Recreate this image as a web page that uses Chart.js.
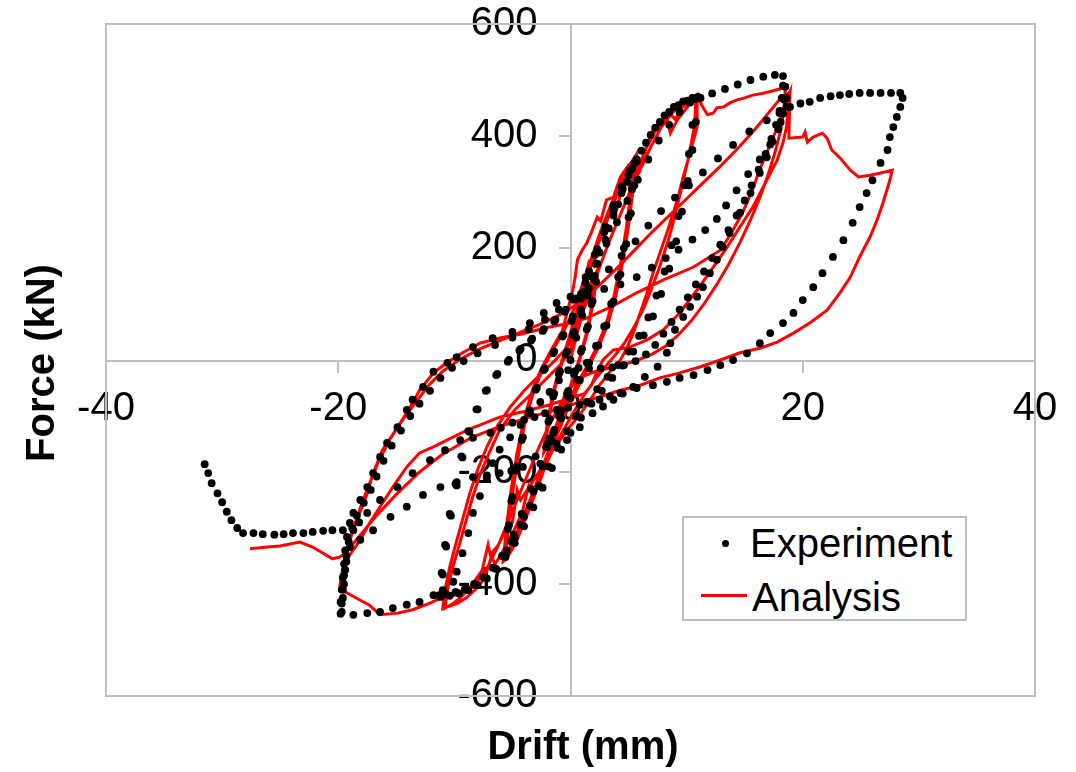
<!DOCTYPE html>
<html>
<head>
<meta charset="utf-8">
<script src="https://cdn.jsdelivr.net/npm/chart.js@4.4.1/dist/chart.umd.min.js"></script>
<style>
  html, body { margin: 0; padding: 0; background: #fff; }
  #wrap { position: relative; width: 1076px; height: 772px; font-family: "Liberation Sans", Arial, sans-serif; }
  canvas { position: absolute; left: 0; top: 0; }
  .axt { position: absolute; font-weight: bold; font-size: 40px; line-height: 48px; height: 48px; text-align: center; color: #000; white-space: nowrap; }
  #legend { position: absolute; left: 682px; top: 516px; width: 281px; height: 101px; border: 2px solid #bfbfbf; background: #fff; }
  .lgt { position: absolute; font-size: 40px; line-height: 48px; height: 48px; color: #000; white-space: nowrap; }
  .lgdot { position: absolute; width: 7px; height: 7px; border-radius: 50%; }
  .lgline { position: absolute; width: 46px; height: 3px; }
</style>
</head>
<body>
<div id="wrap">
  <canvas id="c" width="1076" height="772"></canvas>
  <div class="axt" id="ytitle" style="left:-110px; top:339px; width:300px; transform: rotate(-90deg);"></div>
  <div class="axt" id="xtitle" style="left:433px; top:721px; width:300px;"></div>
  <div id="legend"></div>
</div>
<script>
// ---------------- data (Drift mm, Force kN) ----------------
const xTickValues = [-40, -20, 0, 20, 40];
const yTickValues = [-600, -400, -200, 0, 200, 400, 600];
const xTitle = "Drift (mm)";
const yTitle = "Force (kN)";
const seriesNames = ["Experiment", "Analysis"];

// Experiment: small cycles (about ±2 mm)
const expSmall = [[0,0],[0.5,40],[1.0,80],[1.5,115],[2.0,145],[1.8,100],[1.4,55],[0.9,15],[0.3,-25],[-0.3,-60],[-0.9,-95],[-1.5,-130],[-2.0,-150],[-1.8,-105],[-1.4,-60],[-0.9,-20],[-0.3,15],[0.3,50],[0.9,90],[1.5,125],[2.1,150],[1.9,105],[1.5,60],[1.0,20],[0.4,-20],[-0.2,-55],[-0.8,-90],[-1.4,-125],[-2.1,-155],[-1.9,-110],[-1.5,-65],[-1.0,-25],[-0.4,10]];
// Experiment: cycles about ±5.5 mm
const expMid = [[0.2,45],[0.9,85],[1.6,128],[2.3,172],[3.0,215],[3.7,258],[4.4,298],[5.0,330],[5.5,352],[5.3,305],[5.0,255],[4.6,200],[4.1,148],[3.5,100],[2.9,60],[2.2,25],[1.4,-5],[0.6,-35],[-0.2,-65],[-1.0,-100],[-1.8,-140],[-2.6,-185],[-3.4,-230],[-4.2,-275],[-4.9,-312],[-5.5,-340],[-5.3,-295],[-5.0,-245],[-4.6,-190],[-4.1,-138],[-3.5,-90],[-2.9,-50],[-2.2,-15],[-1.4,15],[-0.6,45],[0.2,78],[0.9,118],[1.6,158],[2.3,198],[3.0,238],[3.7,276],[4.4,310],[5.1,338],[5.7,358],[5.5,312],[5.2,262],[4.8,207],[4.3,153],[3.7,104],[3.1,62],[2.4,26],[1.6,-5],[0.8,-36],[0.0,-68],[-0.8,-104],[-1.6,-145],[-2.4,-190],[-3.2,-235],[-4.0,-280],[-4.8,-318],[-5.6,-348],[-5.4,-302],[-5.1,-252],[-4.7,-197],[-4.2,-143],[-3.6,-94],[-3.0,-53],[-2.3,-18],[-1.5,12],[-0.7,42]];
// Experiment: cycles about ±11 mm
const expCycle11 = [[0.1,70],[0.9,110],[1.7,150],[2.5,192],[3.3,235],[4.1,278],[4.9,318],[5.7,355],[6.5,388],[7.3,415],[8.1,437],[8.9,452],[9.7,462],[10.5,468],[11.0,470],[10.8,425],[10.5,375],[10.1,320],[9.6,265],[9.1,212],[8.5,163],[7.8,118],[7.1,78],[6.3,44],[5.4,15],[4.5,-10],[3.6,-32],[2.7,-55],[1.8,-78],[0.9,-103],[0.0,-130],[-0.8,-160],[-1.6,-193],[-2.4,-228],[-3.2,-263],[-4.0,-297],[-4.8,-327],[-5.6,-352],[-6.4,-373],[-7.2,-390],[-8.0,-402],[-8.8,-411],[-9.6,-417],[-10.4,-421],[-11.2,-423],[-11.0,-383],[-10.7,-333],[-10.3,-278],[-9.8,-224],[-9.3,-174],[-8.7,-128],[-8.0,-88],[-7.2,-54],[-6.3,-25],[-5.3,0],[-4.3,20],[-3.3,38],[-2.3,55],[-1.3,72],[-0.4,90],[0.5,110],[1.3,148],[2.1,188],[2.9,228],[3.7,268],[4.5,306],[5.3,342],[6.1,374],[6.9,402],[7.7,425],[8.5,443],[9.3,455],[10.1,463],[10.7,466],[10.5,420],[10.2,368],[9.8,312],[9.3,257],[8.7,205],[8.1,158],[7.4,115],[6.7,76],[5.9,43],[5.0,15],[4.1,-9],[3.2,-30],[2.3,-52],[1.4,-75],[0.5,-100],[-0.3,-127],[-1.1,-157],[-1.9,-190],[-2.7,-225],[-3.5,-260],[-4.3,-294],[-5.1,-324],[-5.9,-350],[-6.7,-371],[-7.5,-388],[-8.3,-400],[-9.1,-409],[-9.9,-414],[-10.7,-418],[-11.3,-420],[-11.1,-380],[-10.8,-330],[-10.4,-275],[-9.9,-221],[-9.4,-172],[-8.8,-127],[-8.1,-88],[-7.3,-55],[-6.4,-27],[-5.4,-3],[-4.4,17],[-3.4,35],[-2.4,52],[-1.4,69],[-0.5,86]];
// Experiment: first +18 / -20 mm cycle
const expCycle18a = [[0.4,108],[1.3,138],[2.2,172],[3.1,208],[4.0,246],[4.9,284],[5.8,322],[6.7,358],[7.6,392],[8.5,420],[9.4,443],[10.3,460],[11.2,468],[12.2,476],[13.3,484],[14.4,492],[15.5,500],[16.6,506],[17.6,509],[18.3,507],[18.3,490],[18.2,468],[18.0,445],[17.7,420],[17.3,395],[16.8,368],[16.2,340],[15.6,312],[15.0,285],[14.3,258],[13.6,232],[12.9,206],[12.2,182],[11.5,158],[10.8,135],[10.1,112],[9.4,90],[8.7,68],[8.0,47],[7.3,27],[6.5,10],[5.6,-2],[4.6,-9],[3.6,-13],[2.6,-15],[1.6,-15],[0.7,-14],[-0.2,-18],[-1.0,-36],[-1.8,-57],[-2.6,-75],[-3.5,-95],[-4.3,-116],[-5.2,-138],[-6.1,-160],[-6.7,-184],[-7.2,-212],[-7.8,-243],[-8.4,-273],[-8.8,-309],[-9.3,-345],[-9.8,-378],[-10.1,-396],[-11.0,-411],[-11.8,-420],[-13.0,-432],[-14.1,-437],[-15.3,-443],[-16.4,-450],[-17.5,-452],[-18.7,-455],[-19.8,-453],[-19.8,-432],[-19.7,-410],[-19.6,-388],[-19.5,-364],[-19.4,-340],[-19.25,-316],[-19.0,-291],[-18.7,-273],[-18.1,-250],[-17.5,-227],[-17.0,-202],[-16.4,-173],[-15.8,-148],[-14.9,-120],[-14.1,-89],[-13.6,-71],[-12.7,-48],[-11.8,-21],[-10.6,-5],[-9.8,5],[-8.4,23],[-6.7,39],[-5.0,50],[-3.5,66],[-2.3,84],[-1.2,102],[0.0,113],[1.4,120],[2.9,127],[4.3,135],[5.7,148],[7.0,165],[8.2,182],[9.3,197],[10.5,215],[11.6,232],[12.6,252],[13.4,276],[14.3,303],[15.3,332],[16.3,358],[17.2,385],[17.9,412],[18.3,440],[18.4,465],[18.5,488]];
// Experiment: second +18 / -20 mm cycle
const expCycle18b = [[18.6,468],[18.6,452],[18.1,425],[17.4,390],[16.9,362],[16.3,334],[15.5,298],[14.6,263],[13.7,227],[13.1,202],[12.6,179],[12.0,155],[11.4,130],[10.9,113],[10.3,95],[9.7,77],[9.0,54],[8.6,30],[8.3,13],[7.5,-12],[6.4,-30],[5.4,-48],[4.5,-60],[3.7,-71],[2.8,-83],[1.9,-95],[0.8,-120],[-0.3,-143],[-1.2,-150],[-2.0,-155],[-3.0,-172],[-4.1,-191],[-5.1,-198],[-6.1,-202],[-7.2,-206],[-8.4,-209],[-9.8,-218],[-11.2,-227],[-12.7,-241],[-14.1,-262],[-15.5,-280],[-17.0,-304],[-18.1,-321],[-19.0,-334],[-19.3,-360],[-19.5,-385],[-19.6,-410],[-19.7,-435],[-19.7,-450],[-19.6,-425],[-19.5,-400],[-19.4,-375],[-19.3,-350],[-19.1,-325],[-18.8,-300],[-18.4,-278],[-17.8,-255],[-17.2,-232],[-16.7,-208],[-16.1,-180],[-15.4,-153],[-14.6,-126],[-13.8,-100],[-13.0,-78],[-12.1,-55],[-11.2,-32],[-10.2,-14],[-9.2,-2],[-8.0,12],[-6.5,27],[-5.0,40],[-3.6,55],[-2.2,72],[-1.0,90],[0.2,108],[1.2,122],[2.2,140],[3.3,162],[4.4,186],[5.6,212],[6.7,240],[7.8,266],[9.0,290],[10.2,312],[11.4,335],[12.7,360],[14.0,384],[15.4,408],[16.9,428],[18.0,441],[18.9,452]];
// Experiment: +28 mm excursion and final negative push
const expCycle28 = [[19.8,458],[20.6,461],[21.5,468],[22.4,471],[23.2,473],[24.0,475],[24.9,477],[25.8,477],[26.7,477],[27.6,477],[28.4,477],[28.6,468],[28.4,452],[28.1,434],[27.8,416],[27.5,398],[27.3,375],[26.7,352],[26.0,321],[25.5,298],[24.9,273],[24.3,245],[23.5,214],[22.6,184],[21.7,155],[20.9,130],[20.0,107],[19.2,84],[18.3,66],[17.2,48],[16.3,30],[15.2,12],[14.0,0],[12.9,-9],[11.8,-18],[10.6,-27],[9.4,-32],[8.3,-39],[7.1,-45],[5.7,-50],[4.3,-59],[3.4,-65],[2.5,-71],[1.6,-76],[0.8,-80],[-0.2,-85],[-1.2,-89],[-2.2,-95],[-3.1,-102],[-4.0,-107],[-5.0,-112],[-6.0,-121],[-6.9,-130],[-8.4,-139],[-9.5,-143],[-10.8,-161],[-12.1,-179],[-13.6,-202],[-14.9,-227],[-16.4,-250],[-17.5,-273],[-18.2,-290],[-18.7,-304],[-19.6,-304],[-20.5,-304],[-21.3,-305],[-22.2,-307],[-23.0,-309],[-23.9,-309],[-24.7,-311],[-25.5,-312],[-26.5,-311],[-27.3,-309],[-28.2,-309],[-28.7,-300],[-29.2,-286],[-29.6,-271],[-30.0,-254],[-30.4,-238],[-30.9,-220],[-31.2,-202],[-31.5,-186]];

// Analysis: small cycles
const anaSmall = [[0,0],[0.6,50],[1.2,95],[1.8,135],[2.2,155],[1.9,105],[1.4,50],[0.8,5],[0.2,-35],[-0.5,-75],[-1.2,-115],[-1.8,-145],[-2.2,-160],[-1.9,-110],[-1.4,-55],[-0.8,-10],[-0.2,30],[0.5,70],[1.2,110],[1.8,140],[2.3,160],[2.0,108],[1.5,52],[0.9,8],[0.3,-32],[-0.4,-72],[-1.1,-112],[-1.8,-148],[-2.3,-165],[-2.0,-112],[-1.5,-57],[-0.9,-12],[-0.3,28]];
// Analysis: cycles about ±5.5 mm
const anaMid = [[0.3,70],[1.0,120],[1.8,170],[2.6,220],[3.4,265],[4.2,305],[4.9,338],[5.5,360],[5.2,300],[4.8,235],[4.3,170],[3.7,110],[3.0,60],[2.2,20],[1.3,-15],[0.4,-50],[-0.5,-90],[-1.4,-135],[-2.3,-185],[-3.2,-235],[-4.1,-282],[-4.9,-322],[-5.6,-350],[-5.3,-290],[-4.9,-225],[-4.4,-160],[-3.8,-100],[-3.1,-52],[-2.3,-12],[-1.4,22],[-0.5,55],[0.4,95],[1.1,140],[1.9,188],[2.7,236],[3.5,278],[4.3,316],[5.0,345],[5.7,368],[5.4,305],[5.0,240],[4.5,175],[3.9,114],[3.2,63],[2.4,22],[1.5,-14],[0.6,-50],[-0.3,-90],[-1.2,-136],[-2.1,-186],[-3.0,-237],[-3.9,-285],[-4.7,-326],[-5.5,-355],[-5.8,-360],[-5.5,-295],[-5.1,-230],[-4.6,-165],[-4.0,-105],[-3.3,-55],[-2.5,-15],[-1.6,20],[-0.7,52]];
// Analysis: cycles about ±11 mm
const anaCycle11 = [[0.2,125],[0.4,148],[0.6,179],[1.0,196],[1.4,209],[1.8,228],[2.3,255],[2.6,248],[3.1,286],[3.7,291],[4.3,327],[4.9,345],[5.1,298],[5.7,339],[6.2,363],[6.7,388],[7.1,411],[7.7,423],[8.3,434],[8.6,405],[9.2,429],[10.0,450],[10.9,473],[10.9,416],[10.3,370],[9.7,327],[9.2,286],[8.3,227],[7.7,191],[7.1,155],[6.6,120],[6.0,84],[5.4,48],[4.9,23],[4.3,0],[3.4,-21],[2.5,-45],[1.7,-71],[0.8,-98],[-0.1,-120],[-0.9,-143],[-1.8,-170],[-2.6,-196],[-3.4,-222],[-4.3,-250],[-4.6,-232],[-5.0,-290],[-5.6,-304],[-6.2,-330],[-6.9,-348],[-7.1,-330],[-7.6,-375],[-8.2,-393],[-8.9,-412],[-9.5,-425],[-10.2,-436],[-10.8,-443],[-10.6,-411],[-10.2,-375],[-9.7,-339],[-9.1,-295],[-8.5,-250],[-7.8,-205],[-6.9,-161],[-6.1,-125],[-4.8,-89],[-3.5,-63],[-2.2,-36],[-0.9,-9],[0.0,18],[0.5,60],[0.9,110],[1.3,150],[1.6,175],[2.0,168],[2.4,210],[3.0,240],[3.6,275],[3.9,262],[4.4,305],[5.0,330],[5.5,355],[6.0,340],[6.5,378],[7.2,405],[7.8,425],[8.5,442],[9.0,430],[9.6,450],[10.2,462],[10.8,470],[10.7,420],[10.2,365],[9.6,310],[9.0,258],[8.4,212],[7.7,168],[7.0,128],[6.3,92],[5.5,60],[4.7,32],[3.9,10],[3.0,-12],[2.1,-35],[1.2,-62],[0.3,-92],[-0.6,-125],[-1.5,-160],[-2.4,-198],[-3.3,-238],[-3.6,-225],[-4.2,-275],[-5.0,-310],[-5.8,-340],[-6.5,-365],[-6.8,-350],[-7.4,-390],[-8.2,-410],[-9.0,-425],[-9.8,-435],[-10.6,-441],[-11.0,-444],[-10.8,-410],[-10.4,-370],[-9.9,-330],[-9.3,-285],[-8.7,-240],[-8.0,-196],[-7.2,-155],[-6.3,-118],[-5.2,-84],[-4.0,-55],[-2.7,-28],[-1.4,-2],[-0.3,22]];
// Analysis: first +18 / -20 mm cycle
const anaCycle18a = [[0.6,60],[1.5,110],[2.4,160],[3.3,210],[4.2,255],[5.1,300],[6.0,340],[6.9,380],[7.8,415],[8.7,440],[9.6,458],[10.5,470],[10.9,474],[11.3,455],[11.8,438],[12.3,441],[12.6,450],[13.2,452],[13.8,460],[14.3,464],[15.0,468],[15.7,473],[16.5,476],[17.3,480],[18.0,484],[18.5,486],[18.4,450],[18.1,410],[17.6,370],[17.0,330],[16.3,290],[15.5,250],[14.6,210],[13.6,170],[12.6,135],[11.5,100],[10.4,70],[9.3,45],[8.2,25],[7.0,10],[5.8,0],[4.6,-8],[3.4,-14],[2.2,-20],[1.0,-30],[0.0,-50],[-0.9,-80],[-1.8,-115],[-2.7,-155],[-3.6,-200],[-4.5,-245],[-5.4,-290],[-6.3,-335],[-7.2,-372],[-8.1,-398],[-9.0,-412],[-10.0,-420],[-11.0,-423],[-12.1,-434],[-13.6,-446],[-14.9,-452],[-16.4,-455],[-17.3,-438],[-18.1,-429],[-19.25,-416],[-19.8,-411],[-19.85,-405],[-19.6,-370],[-19.0,-321],[-18.4,-286],[-17.5,-238],[-17.0,-202],[-16.2,-161],[-14.9,-120],[-13.8,-84],[-13.0,-54],[-11.8,-23],[-10.6,-4],[-9.3,13],[-7.8,30],[-6.0,40],[-4.3,46],[-2.0,58],[0.0,66],[1.4,75],[3.7,97],[5.7,120],[8.0,143],[10.6,166],[12.9,196],[13.8,225],[14.8,262],[15.6,300],[16.3,340],[17.0,375],[17.6,405],[18.1,435],[18.5,460],[18.9,479]];
// Analysis: second +18 / -20 mm cycle
const anaCycle18b = [[18.7,440],[18.6,416],[18.3,388],[17.8,357],[16.9,321],[15.7,273],[14.6,238],[13.5,202],[12.3,166],[10.9,125],[9.4,84],[8.0,54],[6.6,36],[5.1,23],[3.7,18],[2.8,0],[2.3,-20],[1.8,-45],[1.2,-60],[-1.8,-80],[-4.0,-92],[-6.1,-102],[-8.9,-125],[-11.8,-155],[-13.0,-166],[-14.1,-191],[-15.3,-227],[-16.4,-262],[-17.3,-291],[-18.1,-321],[-19.3,-357],[-19.7,-390],[-19.9,-411],[-19.8,-395],[-19.5,-365],[-19.1,-330],[-18.6,-295],[-18.0,-258],[-17.3,-220],[-16.5,-180],[-15.5,-140],[-14.4,-105],[-13.3,-75],[-12.2,-45],[-11.0,-20],[-9.6,0],[-8.0,18],[-6.3,33],[-4.5,48],[-2.7,63],[-1.0,80],[0.2,95],[1.5,115],[2.8,140],[4.2,168],[5.6,198],[7.0,228],[8.5,258],[10.0,288],[11.5,318],[13.0,348],[14.5,380],[15.8,410],[17.0,440],[18.0,465],[18.9,479]];
// Analysis: +28 mm excursion and final negative push
const anaCycle28 = [[18.8,396],[20.0,398],[20.2,407],[20.4,389],[20.9,398],[21.7,405],[22.1,396],[22.5,375],[23.2,361],[24.1,339],[24.8,327],[25.8,330],[26.7,334],[27.7,339],[27.5,321],[26.9,280],[26.4,250],[25.8,220],[24.9,184],[24.1,148],[23.2,120],[22.1,89],[20.6,66],[19.2,48],[17.8,32],[16.3,21],[14.6,13],[12.9,0],[11.2,-12],[9.4,-23],[7.7,-32],[6.0,-45],[4.3,-54],[2.5,-66],[0.8,-75],[-1.3,-89],[-3.5,-102],[-6.0,-118],[-8.5,-138],[-11.0,-168],[-13.0,-200],[-15.0,-240],[-16.8,-280],[-18.2,-315],[-19.4,-345],[-19.9,-352],[-20.5,-355],[-21.3,-345],[-22.2,-334],[-23.3,-325],[-25.0,-332],[-26.1,-334],[-27.6,-337]];

const experimentPoints = [].concat(expSmall, expMid, expCycle11, expCycle18a, expCycle18b, expCycle28);
const analysisPoints = [].concat(anaSmall, anaMid, anaCycle11, anaCycle18a, anaCycle18b, anaCycle28);
const toXY = arr => arr.map(p => ({x: p[0], y: p[1]}));

// ---------------- chart ----------------
const gray = '#bfbfbf';
const tickFont = {family: '"Liberation Sans", Arial, sans-serif', size: 40};

const framePlugin = {
  id: 'frame',
  beforeDatasetsDraw(chart) {
    const a = chart.chartArea, ctx = chart.ctx;
    ctx.save();
    ctx.strokeStyle = gray;
    ctx.lineWidth = 2;
    ctx.strokeRect(a.left, a.top, a.right - a.left, a.bottom - a.top);
    ctx.restore();
  }
};
const noOverflowPadding = s => { s.paddingTop = 0; s.paddingBottom = 0; s.paddingLeft = 0; s.paddingRight = 0; };

const chart = new Chart(document.getElementById('c'), {
  type: 'scatter',
  data: {
    datasets: [
      {
        label: seriesNames[0],
        data: toXY(experimentPoints),
        showLine: false,
        pointRadius: 3.9,
        pointBorderWidth: 0,
        pointBackgroundColor: '#000',
        backgroundColor: '#000',
        borderColor: '#000',
        order: 0
      },
      {
        label: seriesNames[1],
        data: toXY(analysisPoints),
        showLine: true,
        pointRadius: 0,
        borderColor: '#ff0000',
        backgroundColor: '#ff0000',
        borderWidth: 3,
        tension: 0,
        fill: false,
        order: 1
      }
    ]
  },
  options: {
    responsive: false,
    animation: false,
    devicePixelRatio: 1,
    layout: { padding: { left: 106, right: 41, top: 24, bottom: 76 } },
    plugins: { legend: { display: false }, tooltip: { enabled: false }, title: { display: false } },
    scales: {
      x: {
        type: 'linear', position: 'center', min: -40, max: 40,
        afterBuildTicks: s => { s.ticks = xTickValues.map(v => ({value: v})); },
        afterFit: noOverflowPadding,
        ticks: { font: tickFont, color: '#000', padding: 14, maxRotation: 0, autoSkip: false },
        grid: { drawOnChartArea: false, drawTicks: true, tickLength: 11, color: gray, lineWidth: 2 },
        border: { display: true, color: gray, width: 2 }
      },
      y: {
        type: 'linear', position: 'center', min: -600, max: 600,
        afterBuildTicks: s => { s.ticks = yTickValues.map(v => ({value: v})); },
        afterFit: noOverflowPadding,
        ticks: { font: tickFont, color: '#000', padding: 22, autoSkip: false },
        grid: { drawOnChartArea: false, drawTicks: true, tickLength: 11, color: gray, lineWidth: 2 },
        border: { display: true, color: gray, width: 2 }
      }
    }
  },
  plugins: [framePlugin]
});

// axis titles and legend as real text
document.getElementById('xtitle').textContent = xTitle;
document.getElementById('ytitle').textContent = yTitle;
const lg = document.getElementById('legend');
const ds = chart.data.datasets;
lg.innerHTML =
  '<div class="lgdot" style="left:38px; top:22px; background:' + ds[0].pointBackgroundColor + '"></div>' +
  '<div class="lgt" style="left:66px; top:1px;">' + ds[0].label + '</div>' +
  '<div class="lgline" style="left:17px; top:76px; background:' + ds[1].borderColor + '"></div>' +
  '<div class="lgt" style="left:68px; top:55px;">' + ds[1].label + '</div>';
</script>
</body>
</html>
